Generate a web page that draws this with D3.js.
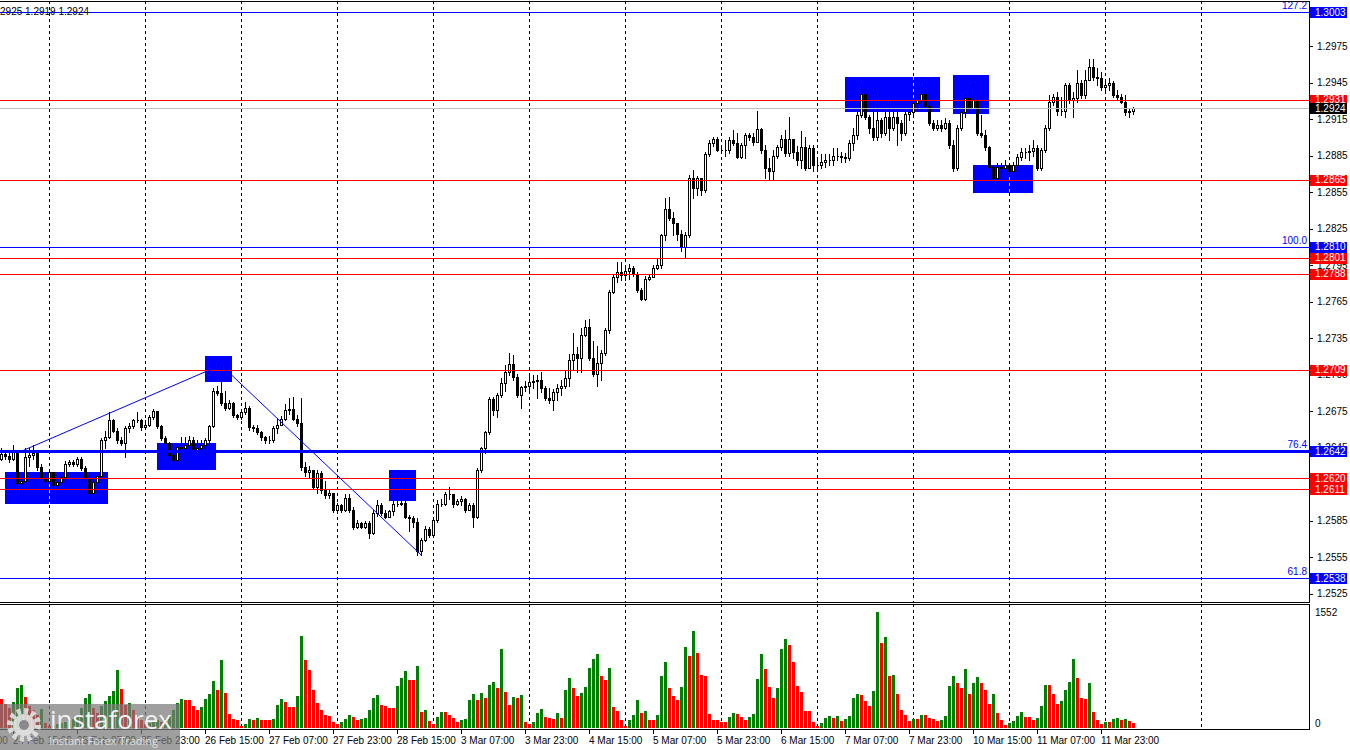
<!DOCTYPE html>
<html>
<head>
<meta charset="utf-8">
<script src="https://cdn.jsdelivr.net/npm/d3@7"></script>
<style>
html,body{margin:0;padding:0;background:#fff;}
svg{display:block;font-family:"Liberation Sans",Arial,sans-serif;font-size:10px;}
</style>
</head>
<body>
<svg id="chart" width="1350" height="750"></svg>
<script>
// GBPUSD H1, 24 Feb 12:00 .. 12 Mar 07:00 (one entry per hourly bar)
var symbol = "GBPUSD,H1"
var firstOpen = 1.2636

var closes = [
1.2640,1.2638,1.2636,1.2643,1.2616,1.2618,1.2637,1.2639,1.2641,1.2629,
1.2620,1.2618,1.2625,1.2614,1.2617,1.2621,1.2632,1.2633,1.2632,1.2636,
1.2628,1.2620,1.2608,1.2617,1.2622,1.2651,1.2654,1.2668,1.2659,1.2651,
1.2649,1.2661,1.2663,1.2668,1.2668,1.2662,1.2664,1.2670,1.2675,1.2663,
1.2653,1.2649,1.2639,1.2635,1.2646,1.2645,1.2647,1.2651,1.2643,1.2645,
1.2647,1.2651,1.2663,1.2692,1.2690,1.2682,1.2678,1.2682,1.2672,1.2670,
1.2674,1.2678,1.2662,1.2661,1.2658,1.2654,1.2651,1.2651,1.2661,1.2664,
1.2669,1.2676,1.2677,1.2669,1.2665,1.2629,1.2625,1.2627,1.2613,1.2624,
1.2610,1.2606,1.2608,1.2594,1.2598,1.2594,1.2604,1.2594,1.2580,1.2583,
1.2580,1.2583,1.2575,1.2591,1.2598,1.2591,1.2588,1.2593,1.2599,1.2599,
1.2600,1.2588,1.2587,1.2584,1.2560,1.2569,1.2578,1.2573,1.2586,1.2599,
1.2599,1.2607,1.2607,1.2599,1.2601,1.2603,1.2594,1.2598,1.2588,1.2627,
1.2645,1.2658,1.2685,1.2676,1.2688,1.2698,1.2707,1.2714,1.2703,1.2688,
1.2695,1.2696,1.2699,1.2700,1.2701,1.2694,1.2686,1.2684,1.2691,1.2694,
1.2696,1.2702,1.2717,1.2722,1.2719,1.2738,1.2744,1.2719,1.2706,1.2715,
1.2723,1.2742,1.2773,1.2785,1.2789,1.2787,1.2790,1.2793,1.2788,1.2775,
1.2767,1.2784,1.2785,1.2793,1.2795,1.2820,1.2841,1.2834,1.2830,1.2821,
1.2810,1.2820,1.2867,1.2858,1.2867,1.2857,1.2886,1.2895,1.2899,1.2890,
1.2890,1.2890,1.2898,1.2895,1.2884,1.2894,1.2902,1.2900,1.2896,1.2907,
1.2890,1.2875,1.2872,1.2885,1.2892,1.2899,1.2887,1.2899,1.2888,1.2881,
1.2892,1.2875,1.2891,1.2877,1.2877,1.2880,1.2881,1.2881,1.2885,1.2885,
1.2884,1.2883,1.2895,1.2902,1.2918,1.2936,1.2917,1.2908,1.2900,1.2914,
1.2904,1.2917,1.2908,1.2917,1.2912,1.2904,1.2919,1.2921,1.2928,1.2931,
1.2936,1.2926,1.2912,1.2908,1.2910,1.2908,1.2912,1.2894,1.2875,1.2908,
1.2921,1.2932,1.2924,1.2931,1.2904,1.2902,1.2892,1.2876,1.2867,1.2876,
1.2875,1.2877,1.2872,1.2877,1.2884,1.2888,1.2888,1.2889,1.2891,1.2875,
1.2890,1.2908,1.2929,1.2933,1.2922,1.2922,1.2943,1.2931,1.2932,1.2945,
1.2935,1.2947,1.2958,1.2950,1.2949,1.2941,1.2943,1.2945,1.2935,1.2933,
1.2929,1.2921,1.2922,1.2924]

var highs = [
1.2645,1.2643,1.2641,1.2647,1.2643,1.2620,1.2645,1.2645,1.2647,1.2641,
1.2632,1.2624,1.2627,1.2625,1.2618,1.2622,1.2634,1.2635,1.2635,1.2637,
1.2637,1.2630,1.2622,1.2622,1.2623,1.2653,1.2659,1.2674,1.2669,1.2661,
1.2654,1.2663,1.2665,1.2669,1.2674,1.2669,1.2668,1.2672,1.2677,1.2673,
1.2664,1.2655,1.2650,1.2641,1.2648,1.2654,1.2654,1.2655,1.2654,1.2651,
1.2651,1.2653,1.2664,1.2694,1.2696,1.2713,1.2692,1.2684,1.2683,1.2673,
1.2676,1.2683,1.2679,1.2664,1.2664,1.2659,1.2655,1.2655,1.2663,1.2669,
1.2671,1.2681,1.2686,1.2687,1.2672,1.2686,1.2633,1.2630,1.2627,1.2627,
1.2626,1.2618,1.2610,1.2608,1.2600,1.2599,1.2607,1.2607,1.2596,1.2586,
1.2584,1.2585,1.2585,1.2594,1.2602,1.2600,1.2594,1.2594,1.2602,1.2621,
1.2610,1.2620,1.2590,1.2589,1.2587,1.2571,1.2581,1.2580,1.2588,1.2602,
1.2603,1.2609,1.2613,1.2605,1.2603,1.2605,1.2604,1.2600,1.2600,1.2628,
1.2646,1.2659,1.2687,1.2687,1.2690,1.2702,1.2713,1.2723,1.2721,1.2706,
1.2696,1.2700,1.2706,1.2705,1.2705,1.2707,1.2696,1.2694,1.2693,1.2697,
1.2701,1.2709,1.2722,1.2739,1.2728,1.2743,1.2750,1.2751,1.2733,1.2729,
1.2725,1.2743,1.2775,1.2787,1.2798,1.2798,1.2793,1.2796,1.2794,1.2789,
1.2776,1.2786,1.2788,1.2795,1.2801,1.2821,1.2850,1.2851,1.2839,1.2830,
1.2824,1.2822,1.2869,1.2873,1.2868,1.2867,1.2888,1.2898,1.2900,1.2900,
1.2894,1.2898,1.2900,1.2906,1.2904,1.2895,1.2904,1.2904,1.2904,1.2922,
1.2908,1.2894,1.2883,1.2890,1.2894,1.2902,1.2906,1.2917,1.2898,1.2893,
1.2905,1.2900,1.2894,1.2894,1.2881,1.2886,1.2886,1.2886,1.2891,1.2891,
1.2888,1.2887,1.2898,1.2908,1.2921,1.2943,1.2940,1.2918,1.2937,1.2927,
1.2916,1.2923,1.2931,1.2924,1.2921,1.2914,1.2922,1.2924,1.2931,1.2936,
1.2942,1.2943,1.2928,1.2914,1.2914,1.2914,1.2916,1.2914,1.2898,1.2910,
1.2922,1.2935,1.2943,1.2945,1.2932,1.2918,1.2906,1.2893,1.2877,1.2879,
1.2879,1.2881,1.2879,1.2880,1.2886,1.2891,1.2891,1.2894,1.2898,1.2894,
1.2891,1.2910,1.2935,1.2936,1.2937,1.2933,1.2945,1.2945,1.2937,1.2955,
1.2947,1.2955,1.2964,1.2964,1.2957,1.2954,1.2947,1.2949,1.2946,1.2939,
1.2936,1.2935,1.2924,1.2925]

var lows = [
1.2635,1.2636,1.2633,1.2635,1.2610,1.2614,1.2617,1.2630,1.2636,1.2627,
1.2618,1.2613,1.2617,1.2613,1.2613,1.2616,1.2620,1.2630,1.2630,1.2630,
1.2627,1.2618,1.2603,1.2607,1.2616,1.2621,1.2645,1.2653,1.2658,1.2649,
1.2647,1.2637,1.2658,1.2661,1.2666,1.2660,1.2661,1.2663,1.2669,1.2661,
1.2651,1.2647,1.2637,1.2633,1.2634,1.2643,1.2643,1.2646,1.2641,1.2641,
1.2642,1.2641,1.2650,1.2662,1.2688,1.2680,1.2676,1.2677,1.2670,1.2669,
1.2669,1.2673,1.2660,1.2659,1.2656,1.2651,1.2649,1.2649,1.2650,1.2657,
1.2664,1.2668,1.2673,1.2668,1.2663,1.2627,1.2622,1.2621,1.2611,1.2608,
1.2608,1.2604,1.2604,1.2592,1.2593,1.2592,1.2593,1.2592,1.2578,1.2579,
1.2579,1.2579,1.2571,1.2574,1.2589,1.2590,1.2587,1.2588,1.2590,1.2597,
1.2598,1.2587,1.2577,1.2580,1.2557,1.2557,1.2568,1.2572,1.2572,1.2584,
1.2597,1.2598,1.2603,1.2596,1.2598,1.2598,1.2592,1.2594,1.2580,1.2587,
1.2625,1.2641,1.2656,1.2672,1.2670,1.2687,1.2692,1.2705,1.2701,1.2687,
1.2678,1.2692,1.2692,1.2694,1.2686,1.2691,1.2684,1.2682,1.2676,1.2684,
1.2688,1.2694,1.2696,1.2709,1.2707,1.2707,1.2737,1.2717,1.2704,1.2696,
1.2701,1.2721,1.2739,1.2772,1.2781,1.2783,1.2783,1.2784,1.2786,1.2773,
1.2766,1.2766,1.2783,1.2786,1.2792,1.2793,1.2816,1.2832,1.2820,1.2816,
1.2807,1.2802,1.2818,1.2850,1.2853,1.2853,1.2855,1.2885,1.2893,1.2889,
1.2887,1.2885,1.2887,1.2894,1.2883,1.2883,1.2883,1.2898,1.2894,1.2896,
1.2887,1.2867,1.2865,1.2865,1.2883,1.2890,1.2885,1.2885,1.2883,1.2877,
1.2875,1.2873,1.2875,1.2872,1.2873,1.2875,1.2876,1.2877,1.2877,1.2881,
1.2880,1.2880,1.2881,1.2890,1.2899,1.2917,1.2915,1.2904,1.2898,1.2898,
1.2900,1.2902,1.2898,1.2906,1.2894,1.2898,1.2902,1.2914,1.2917,1.2922,
1.2927,1.2925,1.2910,1.2906,1.2906,1.2905,1.2907,1.2891,1.2872,1.2873,
1.2906,1.2917,1.2921,1.2922,1.2902,1.2900,1.2890,1.2873,1.2860,1.2859,
1.2868,1.2873,1.2868,1.2870,1.2876,1.2881,1.2883,1.2881,1.2885,1.2873,
1.2873,1.2888,1.2906,1.2927,1.2918,1.2918,1.2917,1.2928,1.2917,1.2929,
1.2932,1.2932,1.2947,1.2947,1.2943,1.2939,1.2939,1.2939,1.2933,1.2931,
1.2928,1.2918,1.2917,1.2919]

var volumes = [
389,322,268,348,536,576,415,295,241,174,
255,67,27,40,54,67,80,107,121,161,
268,402,456,268,201,295,362,429,496,777,
523,308,335,241,161,107,54,67,80,107,
80,121,161,241,335,389,375,374,295,241,
281,389,456,630,509,911,469,188,121,107,
27,54,121,107,134,107,106,105,121,308,
389,348,281,280,429,1233,911,777,509,335,
241,174,161,80,54,80,121,174,147,107,
121,134,241,402,442,308,295,268,267,563,
670,764,643,642,831,214,241,94,54,147,
214,213,174,134,80,107,121,375,456,375,
469,402,576,616,536,1059,482,308,415,402,
442,80,54,80,201,255,147,134,121,201,
134,509,670,536,429,469,549,804,925,992,
697,643,804,281,228,107,27,107,174,375,
201,228,107,106,174,697,884,536,429,375,
549,1085,965,1300,1005,710,697,188,107,106,
80,79,147,201,188,147,107,147,188,657,
992,791,549,402,536,1059,1193,1112,884,563,
482,228,227,80,27,67,134,161,134,161,
94,121,161,402,456,442,362,295,496,1552,
1139,1219,697,710,456,241,174,94,121,120,
174,173,134,121,94,107,161,563,697,603,
536,791,456,603,683,602,509,322,456,201,
107,40,67,94,161,214,147,146,107,134,
295,576,575,456,322,362,509,616,925,670,
402,389,603,214,107,54,80,79,121,134,
107,121,94,67]

// time axis: bar index of each label, and bars that start a new day
var timeLabels = ["21 Feb 23:00","24 Feb 15:00","25 Feb 07:00","25 Feb 23:00","26 Feb 15:00","27 Feb 07:00",
  "27 Feb 23:00","28 Feb 15:00","3 Mar 07:00","3 Mar 23:00","4 Mar 15:00","5 Mar 07:00",
  "5 Mar 23:00","6 Mar 15:00","7 Mar 07:00","7 Mar 23:00","10 Mar 15:00","11 Mar 07:00","11 Mar 23:00"]
var timeLabelBars = [-13,3,19,35,51,67,83,99,115,131,147,163,179,195,211,227,243,259,275]
var dayStartBars = [12,36,60,84,108,132,156,180,204,228,252,276,300]

var priceTicks = [1.2975,1.2945,1.2915,1.2885,1.2855,1.2825,1.2795,1.2765,1.2735,1.2705,
  1.2675,1.2645,1.2615,1.2585,1.2555,1.2525]

// horizontal levels
var redLevels = [1.2931,1.2865,1.2801,1.2788,1.2709,1.2620,1.2611]
var fibLevels = [1.3003,1.2810,1.2642,1.2538]
var fibNames = ["127.2","100.0","76.4","61.8"]

// blue zones: start bar, end bar, top price, bottom price
var zoneStart = [1,39,51,97,211,238,243]
var zoneEnd = [26.75,53.75,57.75,103.75,234.75,247,258]
var zoneTop = [1.2625,1.2649,1.2720,1.2627,1.2950,1.2951,1.2877]
var zoneBottom = [1.2599,1.2627,1.2699,1.2601,1.2921,1.2919,1.2854]

// trend lines through the swing points
var trendBars = [5,55,105]
var trendPrices = [1.2642,1.2713,1.2557]

var volMax = 1552

var n = closes.length
var opens = closes.map((c,i) => i == 0 ? firstOpen : closes[i-1])
var bars = d3.range(n).map(i => ({i:i, o:opens[i], h:highs[i], l:lows[i], c:closes[i], v:volumes[i]}))

var svg = d3.select("#chart")
var right = 1309
var priceTop = 1, priceBottom = 602
var volTop = 604, volBottom = 729

var x = d3.scaleLinear().domain([0, n-1]).range([1, 1+4*(n-1)])
var y = d3.scaleLinear().domain([1.2538, 1.3003]).range([578, 12])
var yv = d3.scaleLinear().domain([0, volMax]).range([728, 612])

function px(i){return Math.round(x(i))+0.5}
function py(p){return Math.round(y(p))+0.5}

svg.append("clipPath").attr("id","pclip").append("rect")
  .attr("x",0).attr("y",priceTop).attr("width",right).attr("height",priceBottom-priceTop)
svg.append("clipPath").attr("id","vclip").append("rect")
  .attr("x",0).attr("y",volTop).attr("width",right).attr("height",volBottom-volTop)

var pg = svg.append("g").attr("clip-path","url(#pclip)").style("shape-rendering","crispEdges")
var vg = svg.append("g").attr("clip-path","url(#vclip)").style("shape-rendering","crispEdges")

// day separators
pg.selectAll("line.grid").data(dayStartBars).enter().append("line").classed("grid",true)
  .attr("x1",px).attr("x2",px).attr("y1",priceTop).attr("y2",priceBottom)
  .attr("stroke","#000").attr("stroke-dasharray","3,3")
vg.selectAll("line.grid").data(dayStartBars).enter().append("line").classed("grid",true)
  .attr("x1",px).attr("x2",px).attr("y1",volTop).attr("y2",volBottom)
  .attr("stroke","#000").attr("stroke-dasharray","3,3")

// zones
var zones = zoneStart.map((s,k) => ({s:s, e:zoneEnd[k], t:zoneTop[k], b:zoneBottom[k]}))
pg.selectAll("rect.zone").data(zones).enter().append("rect").classed("zone",true)
  .attr("x",d => Math.round(x(d.s))).attr("y",d => Math.round(y(d.t)))
  .attr("width",d => Math.round(x(d.e))-Math.round(x(d.s)))
  .attr("height",d => Math.round(y(d.b))-Math.round(y(d.t)))
  .attr("fill","#0000ff")
// separators crossing a zone show up yellow
zones.forEach(function(z){
  dayStartBars.filter(b => b > z.s && b < z.e).forEach(function(b){
    pg.append("line").attr("x1",px(b)).attr("x2",px(b))
      .attr("y1",Math.round(y(z.t))).attr("y2",Math.round(y(z.b)))
      .attr("stroke","#ffff00").attr("stroke-dasharray","3,3")
  })
})

// candles
var cg = pg.append("g")
cg.selectAll("line.wick").data(bars).enter().append("line").classed("wick",true)
  .attr("x1",d => px(d.i)).attr("x2",d => px(d.i))
  .attr("y1",d => Math.round(y(Math.max(d.h,d.o,d.c))))
  .attr("y2",d => Math.round(y(Math.min(d.l,d.o,d.c)))+1)
  .attr("stroke","#000")
cg.selectAll("path.body").data(bars).enter().append("path").classed("body",true)
  .attr("d",function(d){
    var top = py(Math.max(d.o,d.c)), bot = py(Math.min(d.o,d.c))
    var x0 = Math.round(x(d.i))-0.5
    return "M"+x0+","+top+"h2V"+bot+"h-2Z"
  })
  .attr("fill",d => d.c >= d.o ? "#fff" : "#000")
  .attr("stroke","#000")

// levels
pg.selectAll("line.red").data(redLevels).enter().append("line").classed("red",true)
  .attr("x1",0).attr("x2",right).attr("y1",py).attr("y2",py).attr("stroke","#ff0000")
pg.append("line").attr("x1",0).attr("x2",right)
  .attr("y1",py(closes[n-1])).attr("y2",py(closes[n-1])).attr("stroke","#c0c0c0")
pg.selectAll("line.fib").data(fibLevels).enter().append("line").classed("fib",true)
  .attr("x1",0).attr("x2",right).attr("y1",py).attr("y2",py)
  .attr("stroke","#0000ff").attr("stroke-width",(d,k) => k == 2 ? 3 : 1)
pg.selectAll("text.fib").data(fibLevels).enter().append("text").classed("fib",true)
  .attr("x",right-2).attr("y",d => y(d)-3).attr("text-anchor","end")
  .attr("fill","#0000ff").text((d,k) => fibNames[k])

// trend lines
var trend = trendBars.map((b,k) => [x(b), y(trendPrices[k])])
pg.append("path").attr("d",d3.line()(trend)).attr("fill","none")
  .attr("stroke","#0000ff").attr("stroke-width",1).style("shape-rendering","auto")

// header (the window is cut at the left edge)
svg.append("text").attr("x",89).attr("y",15).attr("text-anchor","end")
  .text(symbol+" "+[opens[n-1],highs[n-1],lows[n-1],closes[n-1]].map(v => v.toFixed(4)).join(" "))

// volumes
vg.selectAll("rect.vol").data(bars).enter().append("rect").classed("vol",true)
  .attr("x",d => Math.round(x(d.i))-1).attr("width",3)
  .attr("y",d => Math.round(yv(d.v))).attr("height",d => 728-Math.round(yv(d.v)))
  .attr("fill",d => d.i > 0 && d.v > volumes[d.i-1] ? "#008000" : "#ff0000")

// frames
var fg = svg.append("g").style("shape-rendering","crispEdges").attr("stroke","#000").attr("fill","none")
fg.append("path").attr("d","M0,"+(priceTop+0.5)+"H"+(right+0.5)+"V"+(priceBottom+0.5)+"H0")
fg.append("path").attr("d","M0,"+(volTop+0.5)+"H"+(right+0.5)+"V"+(volBottom+0.5)+"H0")

// price axis
var ag = svg.append("g")
ag.selectAll("line.tick").data(priceTicks).enter().append("line")
  .attr("x1",right).attr("x2",right+4).attr("y1",py).attr("y2",py)
  .attr("stroke","#000").style("shape-rendering","crispEdges")
ag.selectAll("text.tick").data(priceTicks).enter().append("text")
  .attr("x",right+8).attr("y",d => y(d)).attr("dy","0.35em").text(d => d.toFixed(4))

function tag(p, color){
  ag.append("rect").attr("x",right+1).attr("y",Math.round(y(p))-5).attr("width",37).attr("height",11)
    .attr("fill",color)
  ag.append("text").attr("x",right+6).attr("y",y(p)).attr("dy","0.35em").attr("fill","#fff").text(p.toFixed(4))
}
redLevels.forEach(p => tag(p,"#ff0000"))
fibLevels.forEach(p => tag(p,"#0000ff"))
tag(closes[n-1],"#000")

ag.append("text").attr("x",right+6).attr("y",yv(volMax)).attr("dy","0.35em").text(volMax)
ag.append("text").attr("x",right+6).attr("y",yv(0)-5).attr("dy","0.35em").text(0)

// time axis
var tg = svg.append("g")
tg.selectAll("line").data(timeLabelBars).enter().append("line")
  .attr("x1",px).attr("x2",px).attr("y1",volBottom).attr("y2",volBottom+5)
  .attr("stroke","#000").style("shape-rendering","crispEdges")
tg.selectAll("text").data(timeLabelBars).enter().append("text")
  .attr("x",d => x(d)).attr("y",744).text((d,k) => timeLabels[k])

// watermark
var wm = svg.append("g")
wm.append("rect").attr("x",0).attr("y",704).attr("width",180).attr("height",46)
  .attr("fill","#7a7a7a").attr("opacity",0.72)
wm.append("circle").attr("cx",24).attr("cy",725).attr("r",14).attr("fill","none")
  .attr("stroke","#e8e8e8").attr("stroke-width",6).attr("stroke-dasharray","4,3.3").attr("opacity",0.85)
wm.append("circle").attr("cx",24).attr("cy",725).attr("r",11).attr("fill","#e8e8e8").attr("opacity",0.85)
wm.append("circle").attr("cx",24).attr("cy",725).attr("r",5).attr("fill","#8a8a8a")
wm.append("text").attr("x",50).attr("y",729).attr("fill","#f2f2f2")
  .style("font-family","'Open Sans',sans-serif").style("font-size","26px").text("instaforex")
wm.append("text").attr("x",49).attr("y",745).attr("fill","#e0e0e0")
  .style("font-family","'Open Sans',sans-serif").style("font-size","11px").text("Instant Forex Trading")
</script>
</body>
</html>
